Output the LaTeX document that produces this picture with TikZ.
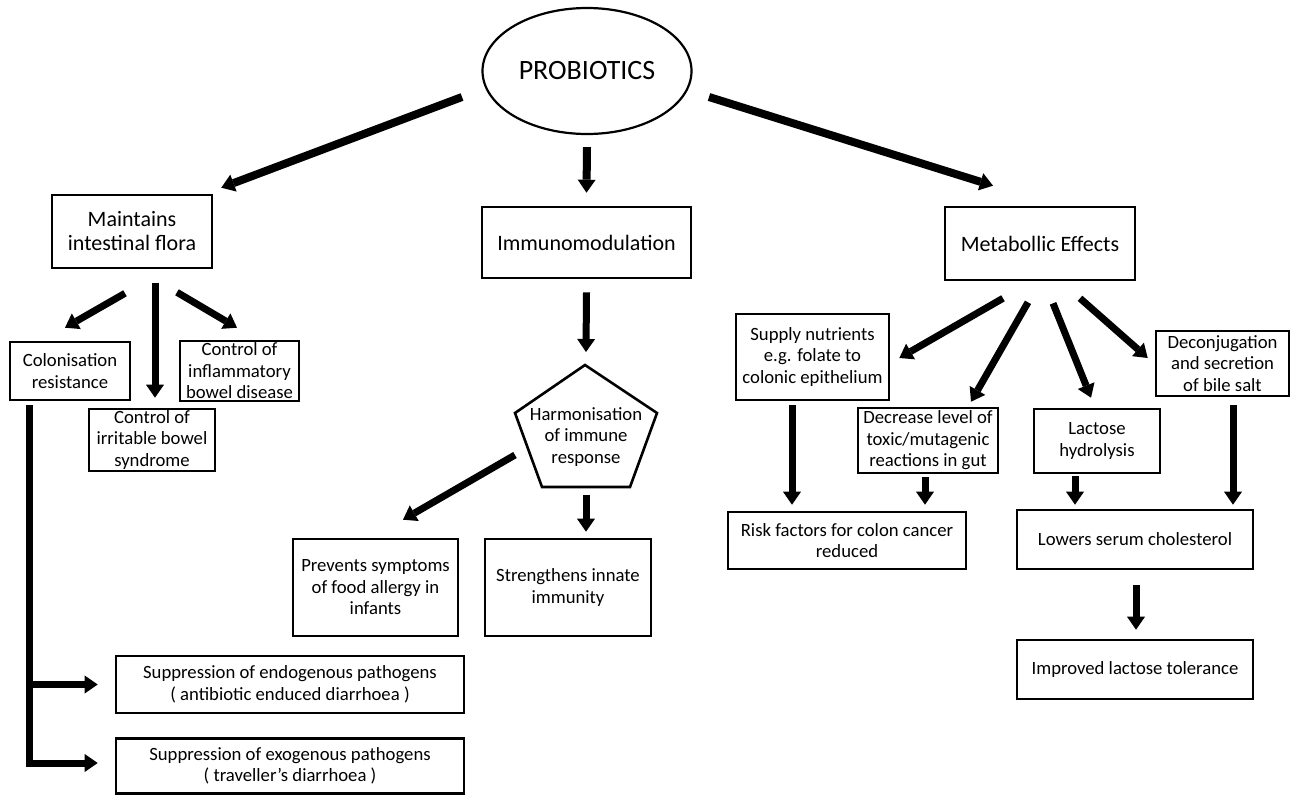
\documentclass[tikz,border=0pt]{standalone}
\usepackage{fontspec}
\setmainfont{Carlito}
\usetikzlibrary{arrows.meta,shapes.geometric,calc}
\newcommand\bigtxt{\fontsize{22pt}{24pt}\selectfont}
\newcommand\smtxt{\fontsize{18.7pt}{21.5pt}\selectfont}
\newcommand\hugetxt{\fontsize{28pt}{30pt}\selectfont}
\begin{document}
\begin{tikzpicture}[x=1pt,y=-1pt,
  box/.style={draw, line width=2.6pt, rectangle, align=center, inner sep=1pt, font=\smtxt},
  bigbox/.style={box, font=\bigtxt},
  arr/.style={line width=7pt, line join=miter, -{Triangle[width=18pt,length=13pt,line width=0pt]}},
  bigarr/.style={arr, line width=8pt}]
\useasboundingbox (0,0) rectangle (1293,796);

% nodes
\node[ellipse, draw, line width=2.2pt, minimum width=209pt, minimum height=126pt, inner sep=0pt, font=\hugetxt] (prob) at (587,71) {PROBIOTICS};
\node[bigbox, minimum width=160pt, minimum height=73pt] (maint) at (132,231.5) {Maintains\\intestinal flora};
\node[bigbox, minimum width=209pt, minimum height=71pt] (immuno) at (586.5,242.5) {Immunomodulation};
\node[bigbox, minimum width=190pt, minimum height=73pt] (metab) at (1040,243.5) {Metabollic Effects};
\node[box, minimum width=120pt, minimum height=58pt] (colon) at (70,371) {Colonisation\\resistance};
\node[box, minimum width=119pt, minimum height=60pt] (inflam) at (239.5,371) {Control of\\inflammatory\\bowel disease};
\node[box, minimum width=126pt, minimum height=62pt] (irrit) at (152,440) {Control of\\irritable bowel\\syndrome};
\node[font=\smtxt, align=center, inner sep=0pt] (harm) at (586,437) {Harmonisation\\of immune\\response};
\draw[line width=2.6pt, line join=miter] (585,365) -- (657,413) -- (630,487) -- (542,487) -- (515,413) -- cycle;
\node[box, minimum width=165pt, minimum height=97pt] (prev) at (375.5,587.5) {Prevents symptoms\\of food allergy in\\infants};
\node[box, minimum width=166pt, minimum height=97pt] (stren) at (568,587.5) {Strengthens innate\\immunity};
\node[box, minimum width=348pt, minimum height=57pt] (endo) at (290,684.5) {Suppression of endogenous pathogens\\( antibiotic enduced diarrhoea )};
\node[box, minimum width=348pt, minimum height=55pt] (exo) at (290,766) {Suppression of exogenous pathogens\\( traveller’s diarrhoea )};
\node[box, minimum width=153pt, minimum height=86pt] (supply) at (812.5,357) {Supply nutrients\\e.g. folate to\\colonic epithelium};
\node[box, minimum width=140pt, minimum height=65pt] (decr) at (928,440.5) {Decrease level of\\toxic/mutagenic\\reactions in gut};
\node[box, minimum width=126pt, minimum height=64pt] (lact) at (1097,441) {Lactose\\hydrolysis};
\node[box, minimum width=133pt, minimum height=65pt] (decon) at (1222.5,363.5) {Deconjugation\\and secretion\\of bile salt};
\node[box, minimum width=238pt, minimum height=57pt] (risk) at (847,540.5) {Risk factors for colon cancer\\reduced};
\node[box, minimum width=236pt, minimum height=59pt] (lowers) at (1135,539.5) {Lowers serum cholesterol};
\node[box, minimum width=236pt, minimum height=59pt] (impr) at (1135,669.5) {Improved lactose tolerance};

% arrows from probiotics
\draw[bigarr] ($(prob.center)+(-125,26)$) -- ($(maint.north east)+(8,-6)$);
\draw[bigarr] ($(prob.south)+(0,12)$) -- ($(immuno.north)+(0,-13)$);
\draw[bigarr] ($(prob.center)+(122,26)$) -- ($(metab.north)+(-47,-20)$);

% maintains intestinal flora
\draw[arr] ($(maint.south)+(-7,24)$) -- ($(colon.north)+(-5,-13)$);
\draw[arr] ($(maint.south)+(23,14)$) -- ($(irrit.north)+(3,-10)$);
\draw[arr] ($(maint.south)+(45,23)$) -- ($(inflam.north)+(-2.5,-12)$);

% colonisation resistance bracket
\coordinate (cl) at ($(colon.south)+(-41,4)$);
\draw[arr] (cl) |- ($(exo.west)+(-17,-3)$);
\draw[arr] (cl |- endo.west) -- ($(endo.west)+(-17,0)$);

% immunomodulation
\draw[arr] ($(immuno.south)+(0,13)$) -- ($(harm.center)+(0,-85)$);
\draw[arr] ($(harm.center)+(-71,18)$) -- ($(prev.north)+(27.5,-18)$);
\draw[arr] ($(harm.center)+(0,58)$) -- ($(stren.north)+(18,-6)$);

% metabolic effects
\draw[arr] ($(metab.south)+(-37,17)$) -- ($(supply.east)+(9,1)$);
\draw[arr] ($(metab.south)+(-12,21)$) -- ($(decr.north)+(43,-5)$);
\draw[arr] ($(metab.south)+(13,22)$) -- ($(lact.north)+(-6,-10)$);
\draw[arr] ($(metab.south)+(40,17)$) -- ($(decon.west)+(-7,-5.5)$);

\draw[arr] ($(supply.south)+(-20.5,4)$) -- ($(risk.north)+(-55,-6)$);
\draw[arr] ($(decr.south)+(-3,3)$) -- ($(risk.north)+(78,-6)$);
\draw[arr] ($(lact.south)+(-22,2)$) -- ($(lowers.north)+(-60,-4)$);
\draw[arr] ($(decon.south)+(10.5,8)$) -- ($(lowers.north)+(98,-4)$);
\draw[arr] ($(lowers.south)+(1,15)$) -- ($(impr.north)+(1,-9)$);
\end{tikzpicture}
\end{document}
